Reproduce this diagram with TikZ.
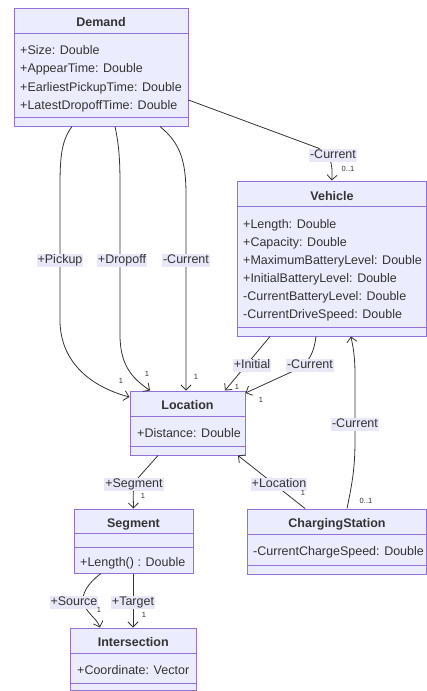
\documentclass[tikz,border=0pt]{standalone}
\usepackage{fontspec}
\setmainfont{Liberation Sans}
\usetikzlibrary{arrows.meta}
\definecolor{boxfill}{HTML}{ECECFF}
\definecolor{boxline}{HTML}{9370DB}
\definecolor{txt}{HTML}{333333}
\definecolor{lblbg}{HTML}{E8E8F8}
\begin{document}
\begin{tikzpicture}[x=1pt,y=-1pt,
  cls/.style={draw=boxline, fill=boxfill, line width=1pt, inner sep=0pt, rectangle},
  divline/.style={draw=boxline, line width=1pt},
  title/.style={font=\fontsize{12.5}{14}\selectfont\bfseries, text=txt, inner sep=0pt, text height=9pt, text depth=2.5pt, yshift=-1.8pt},
  attr/.style={font=\fontsize{12.5}{14}\selectfont, text=txt, anchor=west, inner sep=0pt, text height=9pt, text depth=2.5pt, yshift=-1.8pt},
  lbl/.style={font=\fontsize{12.5}{14}\selectfont, text=txt, fill=lblbg, inner sep=1pt, text height=9pt, text depth=2.5pt, yshift=-1.5pt},
  mult/.style={font=\fontsize{7.5}{9}\selectfont, text=txt, inner sep=0pt},
  edge/.style={draw=txt, line width=0.8pt, -{Straight Barb[length=5pt,width=10pt]}}]
\useasboundingbox (0,0) rectangle (427,691);

% class boxes
\node[cls, minimum width=174pt, minimum height=118pt] (demand) at (101,67) {};
\node[cls, minimum width=189.5pt, minimum height=155pt] (vehicle) at (331.75,258.5) {};
\node[cls, minimum width=115pt, minimum height=64pt] (location) at (187.5,423) {};
\node[cls, minimum width=119pt, minimum height=64pt] (segment) at (133.5,541) {};
\node[cls, minimum width=179.5pt, minimum height=65pt] (charging) at (336.75,541.5) {};
\node[cls, minimum width=126.5pt, minimum height=62.5pt] (intersection) at (133.25,659.25) {};

% dividers
\draw[divline] (demand.west |- 0,33) -- (demand.east |- 0,33);
\draw[divline] (demand.west |- 0,117) -- (demand.east |- 0,117);
\draw[divline] (vehicle.west |- 0,206) -- (vehicle.east |- 0,206);
\draw[divline] (vehicle.west |- 0,327) -- (vehicle.east |- 0,327);
\draw[divline] (location.west |- 0,416) -- (location.east |- 0,416);
\draw[divline] (location.west |- 0,446) -- (location.east |- 0,446);
\draw[divline] (segment.west |- 0,533) -- (segment.east |- 0,533);
\draw[divline] (segment.west |- 0,547) -- (segment.east |- 0,547);
\draw[divline] (charging.west |- 0,534) -- (charging.east |- 0,534);
\draw[divline] (charging.west |- 0,565) -- (charging.east |- 0,565);
\draw[divline] (intersection.west |- 0,653) -- (intersection.east |- 0,653);
\draw[divline] (intersection.west |- 0,683) -- (intersection.east |- 0,683);

% titles
\node[title] (tdemand) at (101,21) {Demand};
\node[title] (tvehicle) at (332,195) {Vehicle};
\node[title] (tlocation) at (187.5,404) {Location};
\node[title] (tsegment) at (133.5,522) {Segment};
\node[title] (tcharging) at (337,522) {ChargingStation};
\node[title] (tinter) at (133.25,641) {Intersection};

% attributes
\node[attr] (a1) at (20,49) {+Size: Double};
\node[attr] (a2) at (20,67) {+AppearTime: Double};
\node[attr] (a3) at (20,86) {+EarliestPickupTime: Double};
\node[attr] (a4) at (20,104) {+LatestDropoffTime: Double};
\node[attr] (v1) at (243,223) {+Length: Double};
\node[attr] (v2) at (243,241) {+Capacity: Double};
\node[attr] (v3) at (243,259) {+MaximumBatteryLevel: Double};
\node[attr] (v4) at (243,277) {+InitialBatteryLevel: Double};
\node[attr] (v5) at (243,295) {-CurrentBatteryLevel: Double};
\node[attr] (v6) at (243,313) {-CurrentDriveSpeed: Double};
\node[attr] (l1) at (137,432) {+Distance: Double};
\node[attr] (s1) at (80,561) {+Length() : Double};
\node[attr] (c1) at (253,550) {-CurrentChargeSpeed: Double};
\node[attr] (i1) at (77,669) {+Coordinate: Vector};

% edges
\draw[edge] (demand.east |- 0,100) -- (318,148) .. controls (330,154) and (333,162) .. (vehicle.north);
\draw[edge] (72,0 |- demand.south) .. controls (62,140) and (60,155) .. (60,185) -- (60,320) .. controls (60,365) and (95,388) .. (location.west |- 0,397);
\draw[edge] (115,0 |- demand.south) .. controls (119,145) and (120,160) .. (120,185) -- (120,335) .. controls (120,368) and (135,380) .. (150,0 |- location.north);
\draw[edge] (160,0 |- demand.south) .. controls (180,143) and (186,160) .. (186,195) -- (186,0 |- location.north);
\draw[edge] (270,0 |- vehicle.south) -- (225,0 |- location.north);
\draw[edge] (316,0 |- vehicle.south) .. controls (314,352) and (310,360) .. (300,368) -- (location.east |- 0,393);
\draw[edge] (347,0 |- charging.north) .. controls (353,480) and (355,465) .. (355,440) -- (355,375) .. controls (355,352) and (352,343) .. (351,0 |- vehicle.south);
\draw[edge] (305,0 |- charging.north) -- (238,0 |- location.south);
\draw[edge] (158,0 |- location.south) -- (138,478) .. controls (133,485) .. (segment.north);
\draw[edge] (101,0 |- segment.south) .. controls (88,583) and (80,595) .. (84,605) .. controls (89,615) and (97,619) .. (100,0 |- intersection.north);
\draw[edge] (133,0 |- segment.south) -- (133,0 |- intersection.north);

% edge labels
\node[lbl] (e1) at (333,154) {-Current};
\node[lbl] (e2) at (60,259) {+Pickup};
\node[lbl] (e3) at (122,259) {+Dropoff};
\node[lbl] (e4) at (186,259) {-Current};
\node[lbl] (e5) at (252,364) {+Initial};
\node[lbl] (e6) at (310,364) {-Current};
\node[lbl] (e7) at (355,423) {-Current};
\node[lbl] (e8) at (279,483) {+Location};
\node[lbl] (e9) at (134,483) {+Segment};
\node[lbl] (e10) at (74,601) {+Source};
\node[lbl] (e11) at (133,601) {+Target};

% multiplicities
\node[mult] (m1) at (348,169) {0..1};
\node[mult] (m2) at (121,381) {1};
\node[mult] (m3) at (147,374) {1};
\node[mult] (m4) at (196,377) {1};
\node[mult] (m5) at (237,387) {1};
\node[mult] (m6) at (261,400) {1};
\node[mult] (m7) at (366,501) {0..1};
\node[mult] (m8) at (303,493) {1};
\node[mult] (m9) at (143,496) {1};
\node[mult] (m10) at (99,610) {1};
\node[mult] (m11) at (144,615) {1};
\end{tikzpicture}
\end{document}
